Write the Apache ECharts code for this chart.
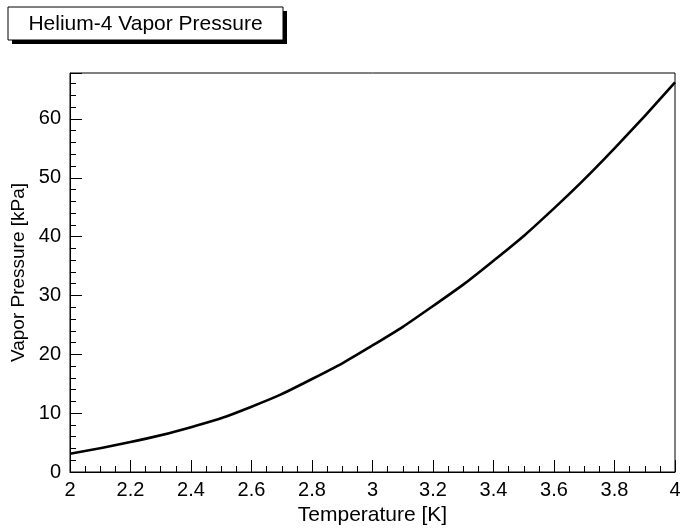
<!DOCTYPE html>
<html><head><meta charset="utf-8">
<script src="https://cdn.jsdelivr.net/npm/echarts@6/dist/echarts.min.js"></script>
<style>html,body{margin:0;padding:0;background:#fff}#c{width:680px;height:530px}</style>
</head><body><div id="c"></div>
<script>
var titleText = 'Helium-4 Vapor Pressure';
var xTitle = 'Temperature [K]';
var yTitle = 'Vapor Pressure [kPa]';
var temperature = [2.0, 2.2, 2.4, 2.6, 2.8, 3.0, 3.2, 3.4, 3.6, 3.8, 4.0];
var pressure    = [3.1, 5.1, 7.6, 11.1, 15.8, 21.5, 28.2, 35.9, 44.8, 55.0, 66.2];

var FONT = '"Liberation Sans", Arial, Helvetica, sans-serif';
var chart = echarts.init(document.getElementById('c'), null, {renderer: 'canvas'});
var data = temperature.map(function (t, i) { return [t, pressure[i]]; });

chart.setOption({
  backgroundColor: '#fff',
  animation: false,
  graphic: [
    {type: 'rect', shape: {x: 12, y: 11, width: 275, height: 33}, style: {fill: '#000'}, z: 100},
    {type: 'rect', shape: {x: 8, y: 7, width: 275, height: 33}, style: {fill: '#fff', stroke: '#000', lineWidth: 1}, z: 101},
    {type: 'text', x: 145.5, y: 24, style: {text: titleText, font: '21px ' + FONT, fill: '#000', align: 'center', verticalAlign: 'middle'}, z: 102}
  ],
  grid: {left: 70, top: 73, width: 605, height: 399, show: true, borderColor: '#000', borderWidth: 1,
    backgroundColor: 'transparent', containLabel: false, outerBoundsMode: 'none'},
  xAxis: {
    type: 'value', min: 2, max: 4, interval: 0.2,
    name: xTitle, nameLocation: 'middle', nameGap: 31,
    nameTextStyle: {fontFamily: FONT, fontSize: 21, color: '#000'},
    axisLine: {show: true, lineStyle: {color: '#000', width: 1}},
    axisTick: {show: true, inside: true, length: 12, lineStyle: {color: '#000', width: 1}},
    minorTick: {show: true, splitNumber: 4, length: 6, lineStyle: {color: '#000', width: 1}},
    splitLine: {show: false},
    axisLabel: {fontFamily: FONT, fontSize: 20, color: '#000', margin: 8, showMinLabel: true, showMaxLabel: true,
      formatter: function (v) { return String(Math.round(v * 10) / 10); }}
  },
  yAxis: {
    type: 'value', min: 0, max: 67.8, interval: 10,
    name: yTitle, nameLocation: 'middle', nameGap: 41,
    nameTextStyle: {fontFamily: FONT, fontSize: 19, color: '#000'},
    axisLine: {show: true, lineStyle: {color: '#000', width: 1}},
    axisTick: {show: true, inside: true, length: 12, lineStyle: {color: '#000', width: 1}},
    minorTick: {show: true, splitNumber: 5, length: 6, lineStyle: {color: '#000', width: 1}},
    splitLine: {show: false},
    axisLabel: {fontFamily: FONT, fontSize: 20, color: '#000', margin: 9, showMaxLabel: false,
      formatter: function (v) { return (Math.abs(v - Math.round(v)) < 1e-6) ? String(Math.round(v)) : ''; }}
  },
  series: [{
    type: 'line', data: data, smooth: 0.5, showSymbol: false, symbol: 'none',
    lineStyle: {color: '#000', width: 2.6}
  }]
});
</script></body></html>
